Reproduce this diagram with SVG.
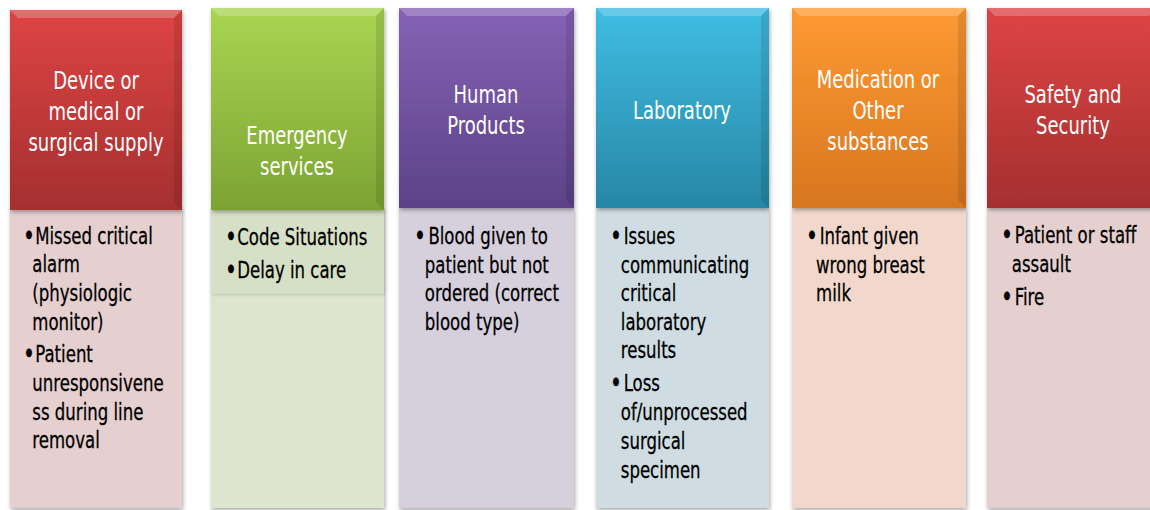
<svg xmlns="http://www.w3.org/2000/svg" width="1150" height="510" viewBox="0 0 1150 510">
<defs>
<filter id="sh" x="-10%" y="-10%" width="120%" height="120%"><feGaussianBlur in="SourceAlpha" stdDeviation="2"/><feOffset dx="1" dy="2"/><feComponentTransfer><feFuncA type="linear" slope="0.35"/></feComponentTransfer><feMerge><feMergeNode/><feMergeNode in="SourceGraphic"/></feMerge></filter>
<filter id="sh2" x="-10%" y="-10%" width="120%" height="120%"><feGaussianBlur in="SourceAlpha" stdDeviation="1.5"/><feOffset dx="1" dy="1"/><feComponentTransfer><feFuncA type="linear" slope="0.15"/></feComponentTransfer><feMerge><feMergeNode/><feMergeNode in="SourceGraphic"/></feMerge></filter>
<linearGradient id="gRed" x1="0" y1="0" x2="0" y2="1"><stop offset="0" stop-color="#de4444"/><stop offset="1" stop-color="#a52f2f"/></linearGradient>
<linearGradient id="gGreen" x1="0" y1="0" x2="0" y2="1"><stop offset="0" stop-color="#a9d552"/><stop offset="1" stop-color="#7ca333"/></linearGradient>
<linearGradient id="gPurple" x1="0" y1="0" x2="0" y2="1"><stop offset="0" stop-color="#8562b5"/><stop offset="1" stop-color="#5c4287"/></linearGradient>
<linearGradient id="gBlue" x1="0" y1="0" x2="0" y2="1"><stop offset="0" stop-color="#3fbde3"/><stop offset="1" stop-color="#2786a5"/></linearGradient>
<linearGradient id="gOrange" x1="0" y1="0" x2="0" y2="1"><stop offset="0" stop-color="#fd9a33"/><stop offset="1" stop-color="#d8761f"/></linearGradient>
<style>
.hd{font-family:"DejaVu Sans","Liberation Sans",sans-serif;font-size:25px;fill:#ffffff;text-anchor:middle}
.bd{font-family:"DejaVu Sans","Liberation Sans",sans-serif;font-size:23px;fill:#000000;stroke:#000000;stroke-width:0.3}
.bu{font-size:28px}
.bev{fill:#ffffff;fill-opacity:0.22}
.bevs{fill:#000000;fill-opacity:0.10}
</style>
</defs>
<rect width="1150" height="510" fill="#ffffff"/>

<g id="col1">
<rect x="10" y="208" width="172" height="300" fill="#e5cfcf" filter="url(#sh)"/>
<rect x="10" y="10" width="172" height="200" fill="url(#gRed)" filter="url(#sh)"/>
<polygon class="bev" points="10,10 182,10 174,18 18,18"/>
<polygon class="bevs" points="174,18 182,10 182,210 174,202"/>
<text class="hd" transform="translate(96 0) scale(0.72 1)"><tspan x="0" y="89">Device or</tspan><tspan x="0" y="120">medical or</tspan><tspan x="0" y="151">surgical supply</tspan></text>
<text class="bd" transform="translate(23 0) scale(0.72 1)"><tspan class="bu" x="0" y="245">•</tspan><tspan x="17" y="244">Missed critical</tspan><tspan x="13" y="272">alarm</tspan><tspan x="13" y="301">(physiologic</tspan><tspan x="13" y="330">monitor)</tspan><tspan class="bu" x="0" y="363">•</tspan><tspan x="17" y="362">Patient</tspan><tspan x="13" y="391">unresponsivene</tspan><tspan x="13" y="420">ss during line</tspan><tspan x="13" y="448">removal</tspan></text>
</g>

<g id="col2">
<rect x="211" y="208" width="173" height="300" fill="#dde5cf" filter="url(#sh)"/>
<rect x="211" y="208" width="173" height="86" fill="#d6e0c6" filter="url(#sh2)"/>
<rect x="211" y="8" width="173" height="202" fill="url(#gGreen)" filter="url(#sh)"/>
<polygon class="bev" points="211,8 384,8 376,16 219,16"/>
<polygon class="bevs" points="376,16 384,8 384,210 376,202"/>
<text class="hd" transform="translate(297 0) scale(0.72 1)"><tspan x="0" y="144">Emergency</tspan><tspan x="0" y="175">services</tspan></text>
<text class="bd" transform="translate(225 0) scale(0.72 1)"><tspan class="bu" x="0" y="246">•</tspan><tspan x="17" y="245">Code Situations</tspan><tspan class="bu" x="0" y="279">•</tspan><tspan x="17" y="278">Delay in care</tspan></text>
</g>

<g id="col3">
<rect x="399" y="208" width="175" height="300" fill="#d6d0dd" filter="url(#sh)"/>
<rect x="399" y="8" width="175" height="200" fill="url(#gPurple)" filter="url(#sh)"/>
<polygon class="bev" points="399,8 574,8 566,16 407,16"/>
<polygon class="bevs" points="566,16 574,8 574,208 566,200"/>
<text class="hd" transform="translate(486 0) scale(0.72 1)"><tspan x="0" y="103">Human</tspan><tspan x="0" y="134">Products</tspan></text>
<text class="bd" transform="translate(414 0) scale(0.72 1)"><tspan class="bu" x="0" y="245">•</tspan><tspan x="20" y="244">Blood given to</tspan><tspan x="15" y="273">patient but not</tspan><tspan x="15" y="301">ordered (correct</tspan><tspan x="15" y="330">blood type)</tspan></text>
</g>

<g id="col4">
<rect x="596" y="208" width="173" height="300" fill="#cfdde3" filter="url(#sh)"/>
<rect x="596" y="8" width="173" height="200" fill="url(#gBlue)" filter="url(#sh)"/>
<polygon class="bev" points="596,8 769,8 761,16 604,16"/>
<polygon class="bevs" points="761,16 769,8 769,208 761,200"/>
<text class="hd" transform="translate(682 0) scale(0.72 1)"><tspan x="0" y="119">Laboratory</tspan></text>
<text class="bd" transform="translate(610 0) scale(0.72 1)"><tspan class="bu" x="0" y="245">•</tspan><tspan x="19" y="244">Issues</tspan><tspan x="15" y="273">communicating</tspan><tspan x="15" y="301">critical</tspan><tspan x="15" y="330">laboratory</tspan><tspan x="15" y="358">results</tspan><tspan class="bu" x="0" y="392">•</tspan><tspan x="19" y="391">Loss</tspan><tspan x="15" y="420">of/unprocessed</tspan><tspan x="15" y="449">surgical</tspan><tspan x="15" y="478">specimen</tspan></text>
</g>

<g id="col5">
<rect x="792" y="208" width="174" height="300" fill="#f2d8cc" filter="url(#sh)"/>
<rect x="792" y="8" width="174" height="200" fill="url(#gOrange)" filter="url(#sh)"/>
<polygon class="bev" points="792,8 966,8 958,16 800,16"/>
<polygon class="bevs" points="958,16 966,8 966,208 958,200"/>
<text class="hd" transform="translate(878 0) scale(0.72 1)"><tspan x="0" y="88">Medication or</tspan><tspan x="0" y="119">Other</tspan><tspan x="0" y="150">substances</tspan></text>
<text class="bd" transform="translate(806 0) scale(0.72 1)"><tspan class="bu" x="0" y="245">•</tspan><tspan x="19" y="244">Infant given</tspan><tspan x="14" y="273">wrong breast</tspan><tspan x="14" y="301">milk</tspan></text>
</g>

<g id="col6">
<rect x="987" y="208" width="170" height="300" fill="#e5cfcf" filter="url(#sh)"/>
<rect x="987" y="8" width="170" height="200" fill="url(#gRed)" filter="url(#sh)"/>
<polygon class="bev" points="987,8 1157,8 1149,16 995,16"/>
<text class="hd" transform="translate(1073 0) scale(0.72 1)"><tspan x="0" y="103">Safety and</tspan><tspan x="0" y="134">Security</tspan></text>
<text class="bd" transform="translate(1001 0) scale(0.72 1)"><tspan class="bu" x="0" y="244">•</tspan><tspan x="19" y="243">Patient or staff</tspan><tspan x="15" y="272">assault</tspan><tspan class="bu" x="0" y="306">•</tspan><tspan x="19" y="305">Fire</tspan></text>
</g>

<g id="connectors"/>
</svg>
